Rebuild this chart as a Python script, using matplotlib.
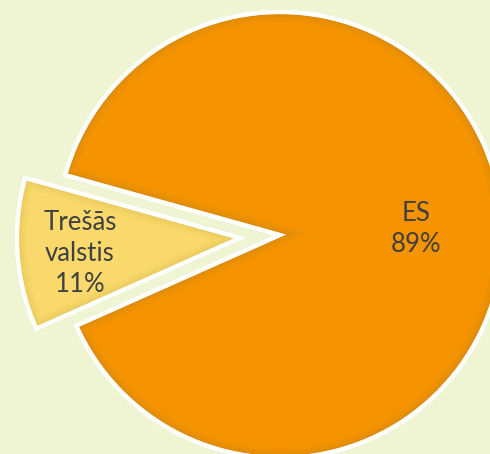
import matplotlib
matplotlib.use("Agg")
import matplotlib.pyplot as plt
from matplotlib.patches import Wedge
import numpy as np

categories = ["ES", "Trešās valstis"]
values = [89, 11]
labels_txt = ["ES\n89%", "Trešās\nvalstis\n11%"]
colors = ["#F59300", "#F9D86C"]
explode = [0, 0.18]

fig = plt.figure(figsize=(4.9, 4.54), dpi=100)
fig.patch.set_facecolor("#EFF4D2")
ax = fig.add_axes([0, 0, 1, 1])
ax.set_facecolor("#EFF4D2")
R = 223

wedges, _ = ax.pie(values, colors=colors, explode=[e * R for e in explode],
                   startangle=204, counterclock=True, radius=R,
                   wedgeprops=dict(edgecolor="white", linewidth=3))

# inner shading near edges
for w, c in zip(wedges, ["#9A7A2A", "#C8A83A"]):
    for lw, a in [(14, 0.07), (9, 0.09), (5, 0.12)]:
        s = Wedge(w.center, w.r, w.theta1, w.theta2, facecolor="none",
                  edgecolor=c, linewidth=lw, alpha=a)
        ax.add_patch(s)
        s.set_clip_path(w)
    w2 = Wedge(w.center, w.r, w.theta1, w.theta2, facecolor="none",
               edgecolor="white", linewidth=3)
    ax.add_patch(w2)

pos = [0.61, 0.72]
for w, t, d in zip(wedges, labels_txt, pos):
    ang = np.deg2rad((w.theta1 + w.theta2) / 2)
    cx, cy = w.center
    x = cx + d * R * np.cos(ang)
    y = cy + d * R * np.sin(ang)
    ax.text(x, y - 4, t, ha="center", va="center", fontsize=18.5,
            fontweight="normal", color="#404040",
            family=["Lato", "DejaVu Sans"], linespacing=1.3)

ax.set_xlim(-280, 210)
ax.set_ylim(-219, 235)
ax.set_aspect("equal")
ax.axis("off")

fig.savefig("out.png", dpi=100, facecolor=fig.get_facecolor())
